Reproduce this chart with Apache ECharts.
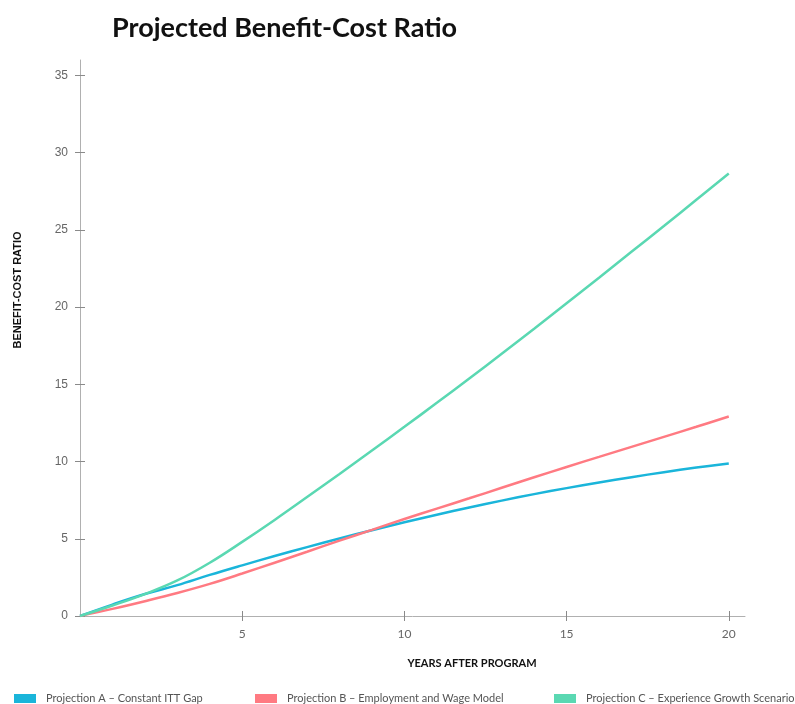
<!DOCTYPE html>
<html>
<head>
<meta charset="utf-8">
<script src="https://cdn.jsdelivr.net/npm/echarts@6/dist/echarts.min.js"></script>
<style>
  html, body { margin: 0; padding: 0; background: #fff; }
  #chart { width: 795px; height: 704px; }
</style>
</head>
<body>
<div id="chart"></div>
<script>
var years = [0, 1, 2, 3, 4, 5, 6, 7, 8, 9, 10, 11, 12, 13, 14, 15, 16, 17, 18, 19, 20];
var projA = [0, 0.74, 1.42, 2.0, 2.66, 3.28, 3.88, 4.46, 5.02, 5.55, 6.07, 6.56, 7.03, 7.47, 7.89, 8.28, 8.65, 8.99, 9.31, 9.61, 9.88];
var projB = [0, 0.46, 0.96, 1.49, 2.08, 2.75, 3.45, 4.16, 4.88, 5.58, 6.28, 6.95, 7.62, 8.3, 8.98, 9.65, 10.3, 10.95, 11.6, 12.25, 12.92];
var projC = [0, 0.68, 1.42, 2.3, 3.45, 4.8, 6.22, 7.7, 9.2, 10.72, 12.25, 13.8, 15.38, 16.98, 18.6, 20.25, 21.9, 23.58, 25.25, 26.95, 28.65];
var seriesNames = ['Projection A \u2013 Constant ITT Gap', 'Projection B \u2013 Employment and Wage Model', 'Projection C \u2013 Experience Growth Scenario'];
var xTicks = [5, 10, 15, 20];
var yTicks = [0, 5, 10, 15, 20, 25, 30, 35];

var colors = ['#1ab5da', '#ff7a82', '#5ad8b2'];

function pairs(vals) {
  return years.map(function (y, i) { return [y, vals[i]]; });
}

var chart = echarts.init(document.getElementById('chart'));

var axisColor = '#b0b0b0';
var tickColor = '#8a8a8a';

// second axis of each pair is shifted into the plot so its ticks cross the axis line
function xAxisDef(shifted) {
  return {
    type: 'value', min: 0, max: 20.5, position: 'bottom', offset: shifted ? -5 : 0,
    axisLine: { show: !shifted, onZero: false, lineStyle: { color: axisColor, width: 1 } },
    axisTick: { show: true, length: 5, customValues: xTicks, lineStyle: { color: tickColor } },
    axisLabel: { show: !shifted, customValues: xTicks, margin: 12, color: '#666', fontFamily: 'Lato', fontSize: 12 },
    splitLine: { show: false }
  };
}
function yAxisDef(shifted) {
  return {
    type: 'value', min: 0, max: 36, position: 'left', offset: shifted ? -5 : 0,
    axisLine: { show: !shifted, onZero: false, lineStyle: { color: axisColor, width: 1 } },
    axisTick: { show: true, length: 5, customValues: yTicks, lineStyle: { color: tickColor } },
    axisLabel: { show: !shifted, customValues: yTicks, margin: 12, color: '#666', fontFamily: 'Liberation Sans', fontSize: 12 },
    splitLine: { show: false }
  };
}

function legendDef(idx, left) {
  return {
    left: left, top: 693, padding: 0, icon: 'rect', itemWidth: 22, itemHeight: 9, itemGap: 10,
    data: [seriesNames[idx]],
    textStyle: { color: '#555', fontFamily: 'Lato', fontWeight: 'normal', fontSize: 11, padding: [0, 0, 0, 5] }
  };
}

var option = {
  backgroundColor: '#fff',
  animation: false,
  color: colors,
  title: {
    text: 'Projected Benefit-Cost Ratio',
    left: 107, top: 10,
    textStyle: { fontFamily: 'Lato', fontWeight: 'bold', fontSize: 27, color: '#111' }
  },
  legend: [legendDef(0, 14), legendDef(1, 255), legendDef(2, 554)],
  grid: { left: 80, right: 50, top: 60, bottom: 88, containLabel: false },
  xAxis: [xAxisDef(false), xAxisDef(true)],
  yAxis: [yAxisDef(false), yAxisDef(true)],
  graphic: [
    {
      type: 'text', x: 18, y: 290, rotation: Math.PI / 2,
      style: { text: 'BENEFIT-COST RATIO', fill: '#111', font: 'bold 11px "Liberation Sans"', align: 'center', verticalAlign: 'middle' }
    },
    {
      type: 'text', x: 472, y: 663,
      style: { text: 'YEARS AFTER PROGRAM', fill: '#111', font: 'bold 11px Lato', align: 'center', verticalAlign: 'middle' }
    }
  ],
  series: [projA, projB, projC].map(function (vals, i) {
    return {
      name: seriesNames[i], type: 'line', smooth: 0.4, showSymbol: false,
      data: pairs(vals),
      lineStyle: { width: 2.5, color: colors[i] },
      itemStyle: { color: colors[i] }
    };
  })
};

chart.setOption(option);
</script>
</body>
</html>
